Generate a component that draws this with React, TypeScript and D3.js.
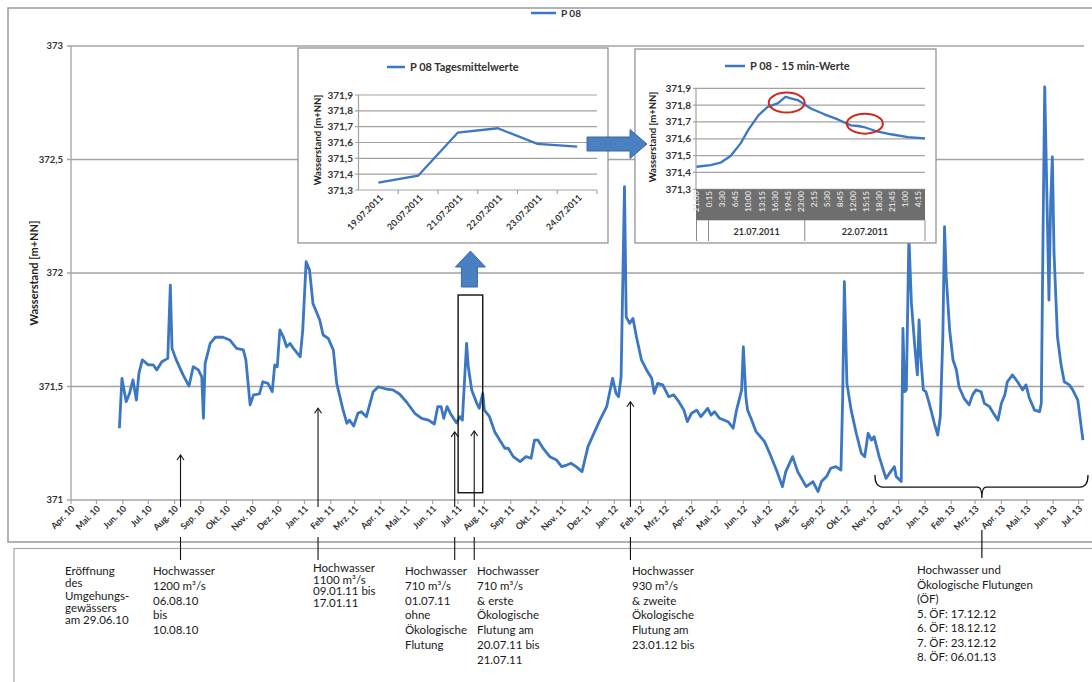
import React from "react";
import * as d3 from "d3";

// ---------- main series (P 08, daily water level, m+NN) ----------
const dates2010 = ["2010-05-28","2010-05-31","2010-06-05","2010-06-09","2010-06-13","2010-06-17","2010-06-20","2010-06-24","2010-07-01","2010-07-07","2010-07-11","2010-07-17","2010-07-24","2010-07-27","2010-07-29","2010-08-03","2010-08-11","2010-08-18","2010-08-23","2010-08-29","2010-09-02","2010-09-04","2010-09-06","2010-09-12","2010-09-18","2010-09-27","2010-10-05","2010-10-13","2010-10-21","2010-10-24","2010-10-29","2010-11-02","2010-11-09","2010-11-13","2010-11-19","2010-11-24","2010-11-27","2010-11-30","2010-12-03","2010-12-07","2010-12-11","2010-12-15","2010-12-19","2010-12-27","2010-12-30"];
const values2010 = [371.316,371.536,371.433,371.47,371.529,371.44,371.558,371.617,371.595,371.595,371.573,371.609,371.624,371.947,371.668,371.617,371.551,371.502,371.587,371.573,371.543,371.36,371.602,371.69,371.717,371.717,371.705,371.668,371.661,371.617,371.419,371.463,371.467,371.521,371.514,371.477,371.595,371.587,371.749,371.72,371.675,371.69,371.668,371.631,371.749];

const dates2011 = ["2011-01-03","2011-01-07","2011-01-11","2011-01-19","2011-01-23","2011-01-29","2011-02-04","2011-02-08","2011-02-15","2011-02-20","2011-02-23","2011-02-28","2011-03-05","2011-03-09","2011-03-15","2011-03-23","2011-03-29","2011-04-08","2011-04-15","2011-04-23","2011-05-01","2011-05-11","2011-05-19","2011-05-27","2011-06-03","2011-06-07","2011-06-11","2011-06-14","2011-06-18","2011-06-23","2011-06-29","2011-07-03","2011-07-06","2011-07-11","2011-07-13","2011-07-17","2011-07-23","2011-07-26","2011-07-30","2011-08-01","2011-08-07","2011-08-13","2011-08-19","2011-08-25","2011-08-29","2011-09-04","2011-09-12","2011-09-19","2011-09-25","2011-09-29","2011-10-03","2011-10-09","2011-10-17","2011-10-25","2011-10-31","2011-11-06","2011-11-11","2011-11-17","2011-11-24","2011-12-01","2011-12-07","2011-12-15","2011-12-23","2011-12-30"];
const values2011 = [372.05,372.013,371.866,371.793,371.727,371.712,371.661,371.514,371.404,371.338,371.352,371.326,371.382,371.389,371.367,371.477,371.499,371.488,371.485,371.467,371.433,371.382,371.36,371.352,371.335,371.411,371.411,371.36,371.411,371.374,371.34,371.367,371.352,371.69,371.587,371.485,371.426,371.404,371.47,371.396,371.367,371.301,371.264,371.228,371.228,371.191,371.169,371.191,371.184,371.264,371.264,371.228,371.191,371.176,371.147,371.154,371.162,371.147,371.125,371.235,371.286,371.352,371.411,371.536];

const dates2012 = ["2012-01-03","2012-01-06","2012-01-09","2012-01-13","2012-01-15","2012-01-19","2012-01-23","2012-01-27","2012-02-02","2012-02-08","2012-02-14","2012-02-17","2012-02-21","2012-02-27","2012-03-05","2012-03-11","2012-03-17","2012-03-23","2012-03-27","2012-04-01","2012-04-07","2012-04-12","2012-04-20","2012-04-24","2012-04-28","2012-05-04","2012-05-14","2012-05-20","2012-05-24","2012-05-30","2012-06-01","2012-06-04","2012-06-06","2012-06-10","2012-06-16","2012-06-26","2012-07-02","2012-07-10","2012-07-17","2012-07-21","2012-07-29","2012-08-04","2012-08-14","2012-08-22","2012-08-28","2012-09-01","2012-09-07","2012-09-12","2012-09-18","2012-09-24","2012-09-26","2012-09-28","2012-10-01","2012-10-06","2012-10-12","2012-10-18","2012-10-22","2012-10-26","2012-10-30","2012-11-02","2012-11-08","2012-11-16","2012-11-20","2012-11-26","2012-11-28","2012-12-04","2012-12-06","2012-12-08","2012-12-10","2012-12-13","2012-12-16","2012-12-20","2012-12-23","2012-12-25","2012-12-27","2012-12-30"];
const values2012 = [371.47,371.455,371.543,372.38,371.807,371.778,371.8,371.72,371.617,371.573,371.536,371.47,371.514,371.507,371.455,371.463,371.433,371.396,371.345,371.382,371.396,371.367,371.404,371.374,371.389,371.36,371.345,371.316,371.396,371.485,371.675,371.455,371.396,371.36,371.301,371.257,371.206,371.132,371.059,371.125,371.191,371.125,371.059,371.081,371.037,371.081,371.103,371.14,371.147,371.132,371.45,371.962,371.514,371.396,371.294,371.206,371.191,371.294,371.264,371.279,371.191,371.095,371.117,371.147,371.103,371.081,371.756,371.477,371.485,372.16,371.866,371.675,371.551,371.793,371.631,371.485];

const dates2013 = ["2013-01-02","2013-01-06","2013-01-12","2013-01-16","2013-01-19","2013-01-22","2013-01-24","2013-01-26","2013-01-30","2013-02-03","2013-02-07","2013-02-10","2013-02-16","2013-02-22","2013-02-26","2013-03-02","2013-03-08","2013-03-12","2013-03-18","2013-03-24","2013-03-28","2013-04-01","2013-04-05","2013-04-08","2013-04-14","2013-04-20","2013-04-26","2013-04-30","2013-05-04","2013-05-10","2013-05-16","2013-05-18","2013-05-20","2013-05-22","2013-05-24","2013-05-27","2013-05-29","2013-05-31","2013-06-02","2013-06-06","2013-06-10","2013-06-14","2013-06-20","2013-06-24","2013-06-30","2013-07-06"];
const values2013 = [371.477,371.426,371.338,371.286,371.367,371.72,372.204,371.984,371.749,371.617,371.573,371.499,371.448,371.419,371.463,371.485,371.477,371.426,371.411,371.374,371.352,371.426,371.463,371.521,371.551,371.521,371.485,371.507,371.448,371.396,371.389,371.426,372.16,372.82,372.454,371.881,372.307,372.512,372.087,371.72,371.602,371.521,371.507,371.485,371.44,371.264];

const mainYTicks = [371, 371.5, 372, 372.5, 373];
const monthNames = ["Jan.","Feb.","Mrz.","Apr.","Mai.","Jun.","Jul.","Aug.","Sep.","Okt.","Nov.","Dez."];
const mainDomain = ["2010-04-01", "2013-07-12"];
const lastMonthTick = "2013-07-01";

// ---------- inset 1: daily means ----------
const dailyLabels = ["19.07.2011","20.07.2011","21.07.2011","22.07.2011","23.07.2011","24.07.2011"];
const dailyValues = [371.346, 371.39, 371.663, 371.69, 371.591, 371.574];
const insetYTicks = [371.3, 371.4, 371.5, 371.6, 371.7, 371.8, 371.9];

// ---------- inset 2: 15-minute values ----------
const quarterTimes = ["2011-07-20 21:00","2011-07-21 00:30","2011-07-21 03:00","2011-07-21 05:30","2011-07-21 08:00","2011-07-21 10:00","2011-07-21 12:30","2011-07-21 14:45","2011-07-21 17:15","2011-07-21 19:15","2011-07-21 20:30","2011-07-21 22:15","2011-07-22 01:30","2011-07-22 04:45","2011-07-22 08:15","2011-07-22 11:30","2011-07-22 13:15","2011-07-22 14:45","2011-07-22 18:15","2011-07-22 21:30","2011-07-23 01:45","2011-07-23 06:00"];
const quarterValues = [371.434,371.444,371.458,371.498,371.573,371.656,371.741,371.79,371.81,371.85,371.84,371.83,371.78,371.747,371.715,371.68,371.676,371.67,371.642,371.627,371.61,371.603];
const quarterDomain = ["2011-07-20 21:00", "2011-07-23 06:00"];
const quarterTickCount = 18;
const quarterTickStepMin = 195;
const dayGroups = [
  { label: "", start: "2011-07-20 21:00", end: "2011-07-21 00:00" },
  { label: "21.07.2011", start: "2011-07-21 00:00", end: "2011-07-22 00:00" },
  { label: "22.07.2011", start: "2011-07-22 00:00", end: "2011-07-23 06:00" },
];
const circledTimes = [
  { time: "2011-07-21 19:30", value: 371.815 },
  { time: "2011-07-22 15:00", value: 371.69 },
];

// ---------- annotations ----------
const arrowEvents = [
  { date: "2010-08-08", value: 371.198 },
  { date: "2011-01-17", value: 371.404 },
  { date: "2011-06-27", value: 371.30 },
  { date: "2011-07-20", value: 371.304 },
  { date: "2012-01-20", value: 371.433 },
];
const highlight = { start: "2011-07-01", end: "2011-07-30", low: 371.032, high: 371.903 };
const bracket = { start: "2012-11-03", mid: "2013-03-09", end: "2013-07-12", value: 371.057 };
const notes = [
  ["Eröffnung", "des", "Umgehungs-", "gewässers", "am 29.06.10"],
  ["Hochwasser", "1200 m³/s", "06.08.10", "bis", "10.08.10"],
  ["Hochwasser", "1100 m³/s", "09.01.11 bis", "17.01.11"],
  ["Hochwasser", "710 m³/s", "01.07.11", "ohne", "Ökologische", "Flutung"],
  ["Hochwasser", "710 m³/s", "& erste", "Ökologische", "Flutung am", "20.07.11 bis", "21.07.11"],
  ["Hochwasser", "930 m³/s", "& zweite", "Ökologische", "Flutung am", "23.01.12 bis"],
  ["Hochwasser und", "Ökologische Flutungen", "(ÖF)", "5. ÖF: 17.12.12", "6. ÖF: 18.12.12", "7. ÖF: 23.12.12", "8. ÖF: 06.01.13"],
];

// ---------- styles / layout ----------
const FONT = "Lato, 'Open Sans', sans-serif";
const BLUE = "#3b77c2";
const GRID = "#a3a3a3";
const noteX = [65, 153, 313, 405, 477, 632, 917];
const noteStep = [12.3, 14.8, 11.6, 14.8, 14.8, 14.8, 14.5];
const noteTop = [575, 575, 572, 575, 575, 575, 574];

export default function App() {
  const pDay = d3.timeParse("%Y-%m-%d");
  const pMin = d3.timeParse("%Y-%m-%d %H:%M");

  // main chart
  const x = d3.scaleTime().domain(mainDomain.map((d) => pDay(d)!)).range([71, 1088]);
  const y = d3.scaleLinear().domain([371, 373]).range([500, 46]);
  const allDates = [...dates2010, ...dates2011, ...dates2012, ...dates2013];
  const allValues = [...values2010, ...values2011, ...values2012, ...values2013];
  const series = allDates.map((d, i) => ({ t: pDay(d)!, v: allValues[i] }));
  const mainLine = d3.line<{ t: Date; v: number }>().x((d) => x(d.t)).y((d) => y(d.v));
  const months = d3.timeMonth.range(pDay(mainDomain[0])!, d3.timeDay.offset(pDay(lastMonthTick)!, 1));

  // inset 1
  const x1 = d3.scaleBand().domain(dailyLabels).range([358.5, 597]);
  const y1 = d3.scaleLinear().domain([371.3, 371.9]).range([190, 95]);
  const line1 = d3.line<number>().x((_, i) => x1(dailyLabels[i])! + x1.bandwidth() / 2).y((v) => y1(v));

  // inset 2
  const x2 = d3.scaleTime().domain(quarterDomain.map((d) => pMin(d)!)).range([696.5, 925]);
  const y2 = d3.scaleLinear().domain([371.3, 371.9]).range([189.3, 88.3]);
  const q = quarterTimes.map((t, i) => ({ t: pMin(t)!, v: quarterValues[i] }));
  const line2 = d3.line<{ t: Date; v: number }>().x((d) => x2(d.t)).y((d) => y2(d.v));
  const qTicks = d3.range(quarterTickCount).map((i) => d3.timeMinute.offset(pMin(quarterDomain[0])!, i * quarterTickStepMin));
  const fmtQ = d3.timeFormat("%-H:%M");

  const hx0 = x(pDay(highlight.start)!);
  const hx1 = x(pDay(highlight.end)!);
  const hCenter = (hx0 + hx1) / 2;

  const bx0 = x(pDay(bracket.start)!);
  const bx1 = x(pDay(bracket.end)!);
  const bxm = x(pDay(bracket.mid)!);
  const by = y(bracket.value);

  return (
    <div style={{ position: "absolute", left: 0, top: 0 }}>
      <svg width={1092} height={682} style={{ display: "block", background: "#fff" }} fontFamily={FONT}>
        {/* frames */}
        <rect x={8} y={8} width={1100} height={534} fill="#fff" stroke="#9a9a9a" strokeWidth={1.5} />
        <rect x={14} y={548.5} width={1100} height={160} fill="#fff" stroke="#a8a8a8" strokeWidth={1.2} />

        {/* main legend */}
        <line x1={531} x2={556} y1={13} y2={13} stroke={BLUE} strokeWidth={2.5} />
        <text x={561} y={13} dy="0.35em" fontSize={10} fontWeight={700} fill="#333">P 08</text>

        {/* grid & y axis */}
        {mainYTicks.map((t) => (
          <g key={t}>
            <line x1={67} x2={1084} y1={y(t)} y2={y(t)} stroke={GRID} strokeWidth={1.3} />
            <text x={63} y={y(t)} dy="0.35em" textAnchor="end" fontSize={9.5} fontWeight={700} fill="#333">
              {String(t).replace(".", ",")}
            </text>
          </g>
        ))}
        <line x1={71} x2={71} y1={46} y2={500} stroke={GRID} strokeWidth={1.3} />
        <text transform={`translate(34,273) rotate(-90)`} textAnchor="middle" dy="0.35em" fontSize={11} fontWeight={700} fill="#222">
          Wasserstand  [m+NN]
        </text>

        {/* x axis */}
        {months.map((m, i) => (
          <g key={i}>
            <line x1={x(m)} x2={x(m)} y1={500} y2={504} stroke={GRID} strokeWidth={1.2} />
            <text transform={`translate(${x(m) + 2},${507}) rotate(-45)`} textAnchor="end" dy="0.35em" fontSize={9} fontWeight={700} fill="#333">
              {`${monthNames[m.getMonth()]} ${String(m.getFullYear()).slice(2)}`}
            </text>
          </g>
        ))}

        {/* main series */}
        <path d={mainLine(series)!} fill="none" stroke={BLUE} strokeWidth={2.8} strokeLinejoin="round" />

        {/* annotation arrows */}
        {arrowEvents.map((a, i) => {
          const ax = x(pDay(a.date)!);
          const ay = y(a.value);
          return (
            <g key={i} stroke="#111" strokeWidth={1.1} fill="none">
              <line x1={ax} x2={ax} y1={507} y2={ay} />
              <path d={`M${ax - 3.5},${ay + 5} L${ax},${ay} L${ax + 3.5},${ay + 5}`} />
              <line x1={ax} x2={ax} y1={537} y2={560} />
            </g>
          );
        })}

        {/* highlight box + up arrow */}
        <rect x={hx0} y={y(highlight.high)} width={hx1 - hx0} height={y(highlight.low) - y(highlight.high)} fill="none" stroke="#111" strokeWidth={1.4} />
        <path
          d={`M${hCenter},251 L${hCenter + 15},267 L${hCenter + 7},267 L${hCenter + 7},287 L${hCenter - 9},287 L${hCenter - 9},267 L${hCenter - 15},267 Z`}
          fill="#4a7fc1" stroke="#3a69a5" strokeWidth={1}
        />

        {/* bracket */}
        <path
          d={`M${bx0},${by - 12} Q${bx0},${by} ${bx0 + 8},${by} L${bxm - 4},${by} Q${bxm},${by} ${bxm},${by + 11} Q${bxm},${by} ${bxm + 4},${by} L${bx1 - 8},${by} Q${bx1},${by} ${bx1},${by - 12}`}
          fill="none" stroke="#111" strokeWidth={1.3}
        />
        <line x1={bxm} x2={bxm} y1={530} y2={558} stroke="#111" strokeWidth={1.2} />

        {/* inset 1 */}
        <g>
          <rect x={298} y={48} width={310} height={195} fill="#fff" stroke="#8c8c8c" strokeWidth={1.2} />
          <line x1={387} x2={405} y1={67} y2={67} stroke={BLUE} strokeWidth={2.5} />
          <text x={410} y={67} dy="0.35em" fontSize={11} fontWeight={700} fill="#333">P 08 Tagesmittelwerte</text>
          {insetYTicks.map((t) => (
            <g key={t}>
              <line x1={355} x2={597} y1={y1(t)} y2={y1(t)} stroke={GRID} strokeWidth={1.2} />
              <text x={353} y={y1(t)} dy="0.35em" textAnchor="end" fontSize={10} fontWeight={700} fill="#333">
                {t.toFixed(1).replace(".", ",")}
              </text>
            </g>
          ))}
          <line x1={358.5} x2={358.5} y1={95} y2={190} stroke={GRID} strokeWidth={1.2} />
          {dailyLabels.map((l) => (
            <line key={l} x1={x1(l)! + x1.bandwidth()} x2={x1(l)! + x1.bandwidth()} y1={190} y2={194} stroke={GRID} strokeWidth={1.2} />
          ))}
          {dailyLabels.map((l) => (
            <text key={l} transform={`translate(${x1(l)! + x1.bandwidth() / 2 + 3},${196}) rotate(-45)`} textAnchor="end" dy="0.35em" fontSize={9} fontWeight={700} fill="#333">
              {l}
            </text>
          ))}
          <text transform={`translate(318,140) rotate(-90)`} textAnchor="middle" dy="0.35em" fontSize={9.5} fontWeight={700} fill="#222">
            Wasserstand  [m+NN]
          </text>
          <path d={line1(dailyValues)!} fill="none" stroke={BLUE} strokeWidth={2.3} />
        </g>

        {/* inset 2 */}
        <g>
          <rect x={635} y={49} width={301} height={194} fill="#fff" stroke="#8c8c8c" strokeWidth={1.2} />
          <line x1={725} x2={745} y1={66} y2={66} stroke={BLUE} strokeWidth={2.5} />
          <text x={750} y={66} dy="0.35em" fontSize={11} fontWeight={700} fill="#333">P 08 - 15 min-Werte</text>
          {insetYTicks.map((t) => (
            <g key={t}>
              <line x1={693} x2={925} y1={y2(t)} y2={y2(t)} stroke={GRID} strokeWidth={1.2} />
              <text x={691} y={y2(t)} dy="0.35em" textAnchor="end" fontSize={10} fontWeight={700} fill="#333">
                {t.toFixed(1).replace(".", ",")}
              </text>
            </g>
          ))}
          <line x1={696} x2={696} y1={88.3} y2={189.3} stroke={GRID} strokeWidth={1.2} />
          <rect x={696} y={189.3} width={229} height={31} fill="#6e6e6e" />
          {qTicks.map((t, i) => (
            <text key={i} transform={`translate(${x2(t)},${191}) rotate(-90)`} textAnchor="end" dy="0.35em" fontSize={8.2} fontWeight={700} fill="#dedede">
              {fmtQ(t)}
            </text>
          ))}
          {dayGroups.map((g, i) => {
            const gx0 = x2(pMin(g.start)!);
            const gx1 = x2(pMin(g.end)!);
            return (
              <g key={i}>
                <line x1={gx0} x2={gx0} y1={220} y2={241} stroke="#8a8a8a" strokeWidth={1} />
                {i === dayGroups.length - 1 && <line x1={gx1} x2={gx1} y1={220} y2={241} stroke="#8a8a8a" strokeWidth={1} />}
                {g.label && (
                  <text x={(gx0 + gx1) / 2} y={232} dy="0.35em" textAnchor="middle" fontSize={9} fontWeight={700} fill="#333">
                    {g.label}
                  </text>
                )}
              </g>
            );
          })}
          <text transform={`translate(653,137) rotate(-90)`} textAnchor="middle" dy="0.35em" fontSize={9.5} fontWeight={700} fill="#222">
            Wasserstand [m+NN]
          </text>
          <path d={line2(q)!} fill="none" stroke={BLUE} strokeWidth={2.3} strokeLinejoin="round" />
          {circledTimes.map((c, i) => (
            <ellipse key={i} cx={x2(pMin(c.time)!)} cy={y2(c.value)} rx={18} ry={10} fill="none" stroke="#cc2a1e" strokeWidth={2} />
          ))}
        </g>

        {/* right arrow between insets */}
        <path d="M587,137 L630,137 L630,129.5 L647,144 L630,158.5 L630,151 L587,151 Z" fill="#4a7fc1" stroke="#3a69a5" strokeWidth={1} />

        {/* notes */}
        {notes.map((lines, i) => (
          <text key={i} fontSize={11.5} fill="#1a1a1a">
            {lines.map((l, j) => (
              <tspan key={j} x={noteX[i]} y={noteTop[i] + j * noteStep[i]}>
                {l}
              </tspan>
            ))}
          </text>
        ))}
      </svg>
    </div>
  );
}
